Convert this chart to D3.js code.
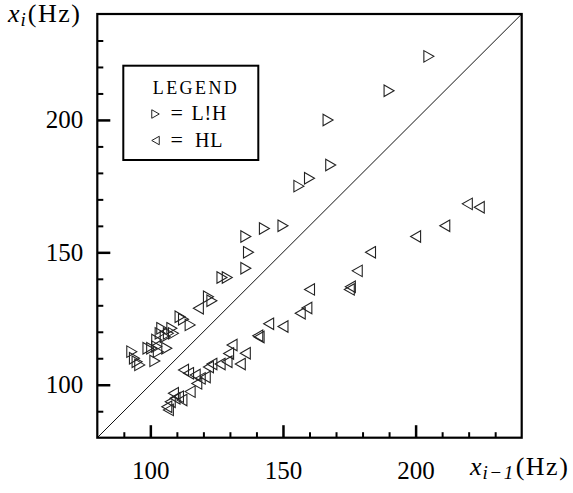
<!DOCTYPE html>
<html>
<head>
<meta charset="utf-8">
<script src="https://cdn.jsdelivr.net/npm/d3@7"></script>
<style>
  body { margin: 0; background: #fff; }
  svg { display: block; }
  text { font-family: "Liberation Serif", "DejaVu Serif", serif; fill: #000; }
</style>
</head>
<body>
<svg id="chart" width="573" height="493"></svg>
<script>
// x_{i-1} and x_i (Hz) for the L!H points (right triangles)
var lhPrev = [205, 190, 167, 168, 156, 160, 150, 143, 136, 137, 136, 127, 129,
              121.9, 123.2, 111.2, 112.5, 115, 108.1, 106.8, 108.7, 104.3, 103.7, 105.6,
              102.4, 102.4, 103, 106.2, 100.5, 99.1, 101.7, 93, 94, 95, 96];
var lhCur  = [224, 211, 200, 183, 175, 178, 160, 159, 156, 150, 144, 140.5, 140.5,
              133.2, 131.7, 125.7, 124.7, 122.6, 121.3, 119.4, 119.4, 121.3, 119.4, 118.1,
              116.9, 114.4, 112.5, 113.8, 113.8, 113.8, 109, 112.5, 110, 108.7, 107.5];

// x_{i-1} and x_i (Hz) for the HL points (left triangles)
var hlPrev = [224, 219.5, 211, 200, 183, 178, 175.4, 175, 160, 159, 156.5, 150, 144.6,
              141, 140.5, 118.1,
              130.8, 135.8, 133.9, 128.9, 129.5, 126.3, 123.2, 121.9, 112.5, 114.4, 116.9,
              118.8, 120.7, 117.5, 115, 108.7, 110.6, 109.3, 111.9, 107.5, 106.2, 106.8];
var hlCur  = [167, 168.3, 160, 156, 150, 143, 137, 136, 136, 129, 127, 122, 123,
              118, 118.5, 128.9,
              115, 111.9, 107.8, 108.7, 111.8, 107.8, 107.8, 106.7, 105.6, 104.3, 103.7,
              102.4, 102.9, 100.5, 97.4, 96.8, 95.5, 94.9, 94.2, 93.6, 91.7, 90.5];

var majorTicks = [100, 150, 200];
var minorTicks = [90, 110, 120, 130, 140, 160, 170, 180, 190, 210, 220, 230];
var axisDomain = [80, 240];

var legendEntries = [
    {label: 'L!H', dir: 1},
    {label: 'HL', dir: -1}
];

var svg = d3.select('#chart');

var plot = {l: 97.3, r: 521.7, t: 14, b: 437.7};

var xScale = d3.scaleLinear().domain(axisDomain).range([plot.l, plot.r]);
var yScale = d3.scaleLinear().domain(axisDomain).range([plot.b, plot.t]);

// triangle pointing right (dir 1) or left (dir -1), centred on its box
function triangle(w, h, dir) {
    var a = dir * w / 2;
    return 'M' + (-a) + ',' + (-h / 2) + 'L' + a + ',0L' + (-a) + ',' + (h / 2) + 'Z';
}

// diagonal x_i = x_{i-1}
svg.append('line')
    .attr('x1', xScale(80)).attr('y1', yScale(80))
    .attr('x2', xScale(240)).attr('y2', yScale(240))
    .attr('stroke', '#111')
    .attr('stroke-width', 1);

// bottom axis: minor then major ticks, pointing inside
svg.append('g')
    .attr('transform', 'translate(0,' + plot.b + ')')
    .call(d3.axisBottom(xScale).tickValues(minorTicks).tickSize(-5.5).tickFormat(''))
    .call(function(g) { g.select('.domain').remove(); })
    .selectAll('line').attr('stroke-width', 2);

var xMajor = svg.append('g')
    .attr('transform', 'translate(0,' + plot.b + ')')
    .call(d3.axisBottom(xScale).tickValues(majorTicks).tickSize(-12.5).tickFormat(d3.format('d')));
xMajor.select('.domain').remove();
xMajor.selectAll('line').attr('stroke-width', 2.5);
xMajor.selectAll('text')
    .attr('y', 41)
    .attr('dy', 0)
    .style('font-size', '25px')
    .style('font-family', '"Liberation Serif", serif');

// left axis
svg.append('g')
    .attr('transform', 'translate(' + plot.l + ',0)')
    .call(d3.axisLeft(yScale).tickValues(minorTicks).tickSize(-6).tickFormat(''))
    .call(function(g) { g.select('.domain').remove(); })
    .selectAll('line').attr('stroke-width', 2);

var yMajor = svg.append('g')
    .attr('transform', 'translate(' + plot.l + ',0)')
    .call(d3.axisLeft(yScale).tickValues(majorTicks).tickSize(-13).tickPadding(14).tickFormat(d3.format('d')));
yMajor.select('.domain').remove();
yMajor.selectAll('line').attr('stroke-width', 2.5);
yMajor.selectAll('text')
    .style('font-size', '25px')
    .style('font-family', '"Liberation Serif", serif');

// frame
svg.append('rect')
    .attr('x', plot.l).attr('y', plot.t)
    .attr('width', plot.r - plot.l).attr('height', plot.b - plot.t)
    .attr('fill', 'none')
    .attr('stroke', '#000')
    .attr('stroke-width', 2.2);

// points
var lhData = lhPrev.map(function(d, i) { return {x: d, y: lhCur[i]}; });
var hlData = hlPrev.map(function(d, i) { return {x: d, y: hlCur[i]}; });

svg.append('g').selectAll('path.lh')
    .data(lhData)
    .enter().append('path')
    .attr('class', 'lh')
    .attr('d', triangle(10, 11.5, 1))
    .attr('transform', function(d) { return 'translate(' + xScale(d.x) + ',' + yScale(d.y) + ')'; })
    .attr('fill', 'none')
    .attr('stroke', '#222')
    .attr('stroke-width', 1.1);

svg.append('g').selectAll('path.hl')
    .data(hlData)
    .enter().append('path')
    .attr('class', 'hl')
    .attr('d', triangle(10, 11.5, -1))
    .attr('transform', function(d) { return 'translate(' + xScale(d.x) + ',' + yScale(d.y) + ')'; })
    .attr('fill', 'none')
    .attr('stroke', '#222')
    .attr('stroke-width', 1.1);

// legend
var legend = svg.append('g');
legend.append('rect')
    .attr('x', 123.3).attr('y', 65.7)
    .attr('width', 135).attr('height', 94.3)
    .attr('fill', '#fff')
    .attr('stroke', '#000')
    .attr('stroke-width', 2);

legend.append('text')
    .attr('x', 196).attr('y', 94)
    .attr('text-anchor', 'middle')
    .style('font-size', '18px')
    .style('letter-spacing', '2.4px')
    .text('LEGEND');

legendEntries.forEach(function(e, i) {
    var base = 120 + i * 26.5;
    legend.append('path')
        .attr('d', triangle(7.5, 8.5, e.dir))
        .attr('transform', 'translate(155.5,' + (base - 6) + ')')
        .attr('fill', 'none')
        .attr('stroke', '#222')
        .attr('stroke-width', 1);
    legend.append('text')
        .attr('x', 176.7).attr('y', base)
        .attr('text-anchor', 'middle')
        .style('font-size', '22px')
        .text('=');
    legend.append('text')
        .attr('x', i === 0 ? 191.5 : 195).attr('y', base)
        .style('font-size', '20px')
        .style('letter-spacing', '0.8px')
        .text(e.label);
});

// axis titles
var yTitle = svg.append('text')
    .attr('x', 8).attr('y', 22)
    .style('font-size', '26px');
yTitle.append('tspan').style('font-style', 'italic').text('x');
yTitle.append('tspan').style('font-style', 'italic').style('font-size', '19px').attr('dy', 4).attr('dx', 1).text('i');
yTitle.append('tspan').attr('dy', -4).attr('dx', 2).style('letter-spacing', '1.5px').text('(Hz)');

var xTitle = svg.append('text')
    .attr('x', 470).attr('y', 475)
    .style('font-size', '26px');
xTitle.append('tspan').style('font-style', 'italic').text('x');
xTitle.append('tspan').style('font-style', 'italic').style('font-size', '19px').attr('dy', 4).attr('dx', 1).style('letter-spacing', '1.5px').text('i\u22121');
xTitle.append('tspan').attr('dy', -4).attr('dx', 1).style('letter-spacing', '1.5px').text('(Hz)');
</script>
</body>
</html>
